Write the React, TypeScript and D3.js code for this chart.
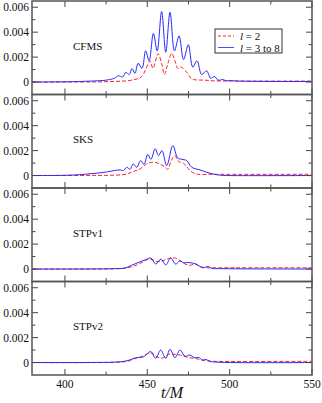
import React, { useEffect, useRef } from 'react';
import * as d3 from 'd3';

type Pt = [number, number];

const panelNames = ['CFMS', 'SKS', 'STPv1', 'STPv2'];
const xTicks = [400, 450, 500, 550];
const xMinor = [425, 475, 525];
const yTicks = [0, 0.002, 0.004, 0.006];
const yMinor = [0.001, 0.003, 0.005];

// l = 3 to 8 (blue, solid)
const cfmsHigh: Pt[] = [
  [380, 0], [400, 0.00002], [410, 0.00005], [420, 0.0001], [425, 0.00015], [430, 0.0003],
  [432.4, 0.0005], [435, 0.0004], [437, 0.00078], [439, 0.0006], [440.7, 0.00108], [442.5, 0.0007],
  [444.4, 0.0015], [446.8, 0.0011], [449, 0.0025], [451.1, 0.0017], [453.7, 0.0039], [456, 0.0025],
  [458.7, 0.00565], [461.2, 0.0024], [463.8, 0.0056], [466.5, 0.0025], [469.3, 0.0037], [472, 0.0018],
  [474.9, 0.003], [477.6, 0.0012], [480.2, 0.0017], [483, 0.0006], [486, 0.0009], [488.5, 0.0003],
  [490.7, 0.00045], [493, 0.00015], [495.8, 0.0002], [498, 0.0001], [500, 0.00012], [505, 0.00008],
  [520, 0.00005], [550, 0.00004],
];
// l = 2 (red, dashed)
const cfmsL2: Pt[] = [
  [380, 0], [420, 0.00001], [430, 0.00005], [438, 0.0001], [442, 0.0002], [445, 0.0003],
  [447, 0.0005], [449, 0.001], [451.6, 0.0017], [453.5, 0.0011], [456.5, 0.00227], [458.7, 0.0015],
  [460.4, 0.0006], [462.3, 0.0014], [464.8, 0.0023], [467, 0.0016], [468.5, 0.0011], [470.5, 0.0012],
  [472.5, 0.001], [474.5, 0.0007], [476.5, 0.0003], [478, 0.0002], [485, 0.00015], [490, 0.0001],
  [500, 0.00008], [550, 0.00008],
];

const sksHigh: Pt[] = [
  [380, 0], [400, 0.00002], [410, 0.00008], [420, 0.0002], [426, 0.0003], [430, 0.0004],
  [433.5, 0.00045], [435.5, 0.0004], [437.5, 0.00066], [439.5, 0.0005], [441.5, 0.00093], [443.6, 0.00066],
  [446, 0.0012], [448, 0.0009], [450.3, 0.0017], [452.2, 0.0013], [454.8, 0.00215], [456.8, 0.0016],
  [458.9, 0.002], [461.8, 0.0008], [465.5, 0.0024], [468.5, 0.0014], [471, 0.0013], [473.9, 0.0012],
  [477, 0.00066], [482, 0.00045], [486, 0.00026], [490, 0.00012], [494, 0.00003], [500, 0], [550, 0],
];
const sksL2: Pt[] = [
  [380, 0], [420, 0.00001], [430, 0.00003], [437, 0.0001], [441, 0.0003], [445.6, 0.00053],
  [449.6, 0.00093], [453.7, 0.00107], [457.7, 0.00093], [460.5, 0.0007], [462.4, 0.0005], [464.5, 0.0012],
  [466.8, 0.0016], [468.5, 0.0012], [470, 0.00105], [471.9, 0.001], [474, 0.0007], [476, 0.0004],
  [480, 0.00012], [490, 0.0001], [550, 0.0001],
];

const stp1High: Pt[] = [
  [380, 0], [420, 0.00001], [430, 0.00003], [436.5, 0.00008], [440.5, 0.0003], [445.6, 0.00058],
  [449, 0.00075], [452.1, 0.00088], [455.1, 0.0004], [458.3, 0.0008], [461.2, 0.00033], [464.2, 0.00088],
  [467.2, 0.0004], [469.9, 0.00066], [472, 0.0005], [474, 0.00052], [476.5, 0.0005], [479.6, 0.0004],
  [482, 0.0002], [483.8, 0.0001], [486.9, 0.0002], [489, 0.00006], [495, 0.00003], [550, 0],
];
const stp1L2: Pt[] = [
  [380, 0], [430, 0.00002], [437, 0.00008], [441, 0.0002], [445, 0.0004], [449, 0.0007],
  [452, 0.0008], [455.9, 0.0006], [459, 0.00065], [463, 0.00085], [466.5, 0.0009], [469.5, 0.0007],
  [473, 0.0004], [476, 0.0003], [479, 0.0004], [482, 0.0002], [486, 0.0001], [490, 0.0001], [550, 0.0001],
];

const stp2High: Pt[] = [
  [380, 0], [420, 0.00001], [430, 0.00003], [436, 0.0001], [439.1, 0.0002], [443.6, 0.0004],
  [447.6, 0.00045], [452.1, 0.00088], [455.1, 0.00034], [458.1, 0.001], [461.2, 0.00034], [463.8, 0.00105],
  [466.8, 0.0004], [469.9, 0.001], [472.9, 0.0005], [475.9, 0.0006], [478.5, 0.0004], [481.6, 0.0004],
  [483.2, 0.0002], [485.5, 0.00025], [488, 0.0001], [492, 0.00003], [550, 0],
];
const stp2L2: Pt[] = [
  [380, 0], [430, 0.00002], [438, 0.0001], [442, 0.0003], [446, 0.00045], [450, 0.0007],
  [452.5, 0.00075], [456, 0.00045], [459, 0.00035], [462, 0.0006], [464.5, 0.0007], [467, 0.00065],
  [470, 0.0006], [475, 0.0004], [480, 0.0003], [485, 0.00015], [490, 0.0001], [550, 0.0001],
];

const panelHigh = [cfmsHigh, sksHigh, stp1High, stp2High];
const panelL2 = [cfmsL2, sksL2, stp1L2, stp2L2];

function App() {
  const svgRef = useRef<SVGSVGElement>(null);

  useEffect(() => {
    if (!svgRef.current) return;
    const width = 322;
    const height = 403;
    const left = 32;
    const right = 312;
    const top = 1;
    const ph = 93.5;

    const svg = d3.select(svgRef.current);
    svg.selectAll('*').remove();
    svg.attr('width', width).attr('height', height)
      .style('font-family', "'Liberation Serif', serif");

    const x = d3.scaleLinear().domain([380, 550]).range([left, right]);

    panelNames.forEach((name, i) => {
      const y0 = top + i * ph;
      const y = d3.scaleLinear().domain([-0.001, 0.0065]).range([y0 + ph, y0]);
      const g = svg.append('g');

      const clipId = `clip${i}`;
      svg.append('clipPath').attr('id', clipId)
        .append('rect').attr('x', left).attr('y', y0).attr('width', right - left).attr('height', ph);

      const line = d3.line<Pt>()
        .x(d => x(d[0]))
        .y(d => y(d[1]))
        .curve(d3.curveCatmullRom.alpha(0.5));

      g.append('path')
        .attr('d', line(panelL2[i]))
        .attr('fill', 'none')
        .attr('stroke', '#ff2020')
        .attr('stroke-width', 1)
        .attr('stroke-dasharray', '4,2')
        .attr('clip-path', `url(#${clipId})`);

      g.append('path')
        .attr('d', line(panelHigh[i]))
        .attr('fill', 'none')
        .attr('stroke', '#2828ff')
        .attr('stroke-width', 1)
        .attr('clip-path', `url(#${clipId})`);

      // ticks, inward on all four sides
      const tickColor = '#444';
      xTicks.concat(xMinor).forEach(t => {
        const len = xTicks.includes(t) ? 6 : 3.5;
        [[y0, y0 + len], [y0 + ph, y0 + ph - len]].forEach(([a, b]) => {
          g.append('line')
            .attr('x1', x(t)).attr('x2', x(t)).attr('y1', a).attr('y2', b)
            .attr('stroke', tickColor).attr('stroke-width', 1);
        });
      });
      yTicks.concat(yMinor).forEach(v => {
        const len = yTicks.includes(v) ? 6 : 3.5;
        [[left, left + len], [right, right - len]].forEach(([a, b]) => {
          g.append('line')
            .attr('x1', a).attr('x2', b).attr('y1', y(v)).attr('y2', y(v))
            .attr('stroke', tickColor).attr('stroke-width', 1);
        });
      });

      yTicks.forEach(v => {
        g.append('text')
          .attr('x', left - 3)
          .attr('y', y(v) + 4)
          .attr('text-anchor', 'end')
          .attr('font-size', 11.5)
          .attr('fill', '#111')
          .text(v === 0 ? '0' : d3.format('.3f')(v));
      });

      g.append('text')
        .attr('x', 73)
        .attr('y', y0 + 48.5)
        .attr('font-size', 11)
        .attr('fill', '#111')
        .text(name);

      g.append('rect')
        .attr('x', left).attr('y', y0).attr('width', right - left).attr('height', ph)
        .attr('fill', 'none').attr('stroke', '#555').attr('stroke-width', 1.5);
    });

    xTicks.forEach(t => {
      svg.append('text')
        .attr('x', x(t))
        .attr('y', 387.5)
        .attr('text-anchor', 'middle')
        .attr('font-size', 11.5)
        .attr('fill', '#111')
        .text(String(t));
    });

    svg.append('text')
      .attr('x', 172)
      .attr('y', 398)
      .attr('text-anchor', 'middle')
      .attr('font-size', 16)
      .attr('font-style', 'italic')
      .attr('fill', '#111')
      .text('t/M');

    // legend
    const lg = svg.append('g');
    lg.append('rect')
      .attr('x', 215).attr('y', 29).attr('width', 67).attr('height', 24)
      .attr('fill', 'white').attr('stroke', '#333').attr('stroke-width', 1);
    lg.append('line')
      .attr('x1', 218).attr('x2', 234).attr('y1', 36).attr('y2', 36)
      .attr('stroke', '#ff2020').attr('stroke-dasharray', '3,2');
    lg.append('line')
      .attr('x1', 218).attr('x2', 234).attr('y1', 47.5).attr('y2', 47.5)
      .attr('stroke', '#4a4aff');
    const t1 = lg.append('text').attr('x', 240).attr('y', 40)
      .attr('font-size', 11).attr('fill', '#111');
    t1.append('tspan').attr('font-style', 'italic').text('l');
    t1.append('tspan').text(' = 2');
    const t2 = lg.append('text').attr('x', 240).attr('y', 51.5)
      .attr('font-size', 11).attr('fill', '#111');
    t2.append('tspan').attr('font-style', 'italic').text('l');
    t2.append('tspan').text(' = 3 to 8');
  }, []);

  return (
    <div style={{ position: 'absolute', left: 0, top: 0 }}>
      <svg ref={svgRef}></svg>
    </div>
  );
}

export default App;
